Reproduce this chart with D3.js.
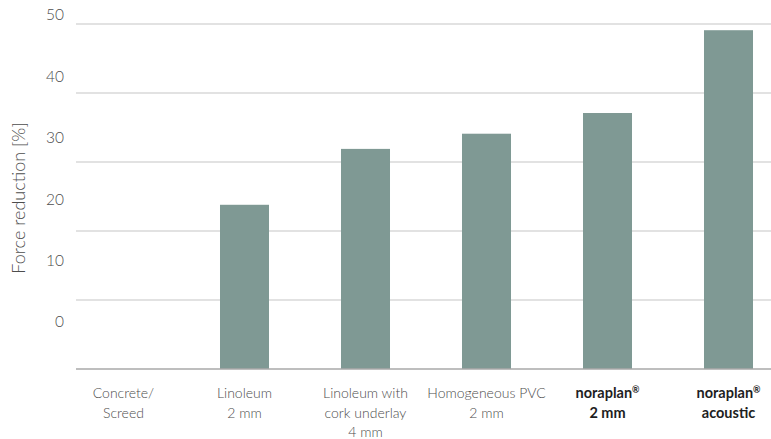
<!DOCTYPE html>
<html>
<head>
<meta charset="utf-8">
<script src="https://cdn.jsdelivr.net/npm/d3@7"></script>
<style>
  body { margin: 0; background: #fff; }
  svg { display: block; font-family: Lato, "Open Sans", sans-serif; }
</style>
</head>
<body>
<svg id="chart" width="771" height="439"></svg>
<script>
// categories, each split into lines; bold marks the noraplan products
const categories = ['Concrete/Screed', 'Linoleum 2 mm', 'Linoleum with cork underlay 4 mm',
  'Homogeneous PVC 2 mm', 'noraplan 2 mm', 'noraplan acoustic'];
const labelLines = [
  ['Concrete/', 'Screed'],
  ['Linoleum', '2 mm'],
  ['Linoleum with', 'cork underlay', '4 mm'],
  ['Homogeneous PVC', '2 mm'],
  ['noraplan®', '2 mm'],
  ['noraplan®', 'acoustic']
];
const boldLabel = [false, false, false, false, true, true];
const values = [0, 23.8, 31.9, 34.1, 37.1, 49.1];
const gridTicks = [0, 10, 20, 30, 40, 50];
const tickLabels = [50, 40, 30, 20, 10, 0];

const svg = d3.select('#chart');
const width = 771;
const margin = { top: 24, bottom: 369, left: 76 };

const x = d3.scaleBand()
  .domain(categories)
  .range([63, 789])
  .paddingInner(0.595)
  .paddingOuter(0.2975);

const y = d3.scaleLinear()
  .domain([0, 50])
  .range([margin.bottom, margin.top]);

// the printed tick labels sit on their own spacing, not on the gridlines
const yLabel = d3.scaleLinear()
  .domain([0, 50])
  .range([322, 15]);

// gridlines
svg.append('g')
  .selectAll('line')
  .data(gridTicks.slice(1))
  .join('line')
  .attr('x1', margin.left)
  .attr('x2', width)
  .attr('y1', d => y(d))
  .attr('y2', d => y(d))
  .attr('stroke', '#c6c6c6')
  .attr('stroke-width', 1.2);

// bars
svg.append('g')
  .selectAll('rect')
  .data(values)
  .join('rect')
  .attr('x', (d, i) => x(categories[i]))
  .attr('y', d => y(d))
  .attr('width', x.bandwidth())
  .attr('height', d => y(0) - y(d))
  .attr('fill', '#7f9994');

// baseline
svg.append('line')
  .attr('x1', margin.left)
  .attr('x2', width)
  .attr('y1', y(0))
  .attr('y2', y(0))
  .attr('stroke', '#a8a8a8')
  .attr('stroke-width', 1.3);

// y tick labels
svg.append('g')
  .selectAll('text')
  .data(tickLabels)
  .join('text')
  .attr('x', 64)
  .attr('y', d => yLabel(d))
  .attr('dy', '0.35em')
  .attr('text-anchor', 'end')
  .style('font-size', '15.5px')
  .style('font-weight', 300)
  .attr('fill', '#4d4d4d')
  .text(d => d);

// y title
svg.append('text')
  .attr('transform', 'translate(25,198) rotate(-90)')
  .attr('text-anchor', 'middle')
  .style('font-size', '18px')
  .style('font-weight', 300)
  .attr('fill', '#4d4d4d')
  .text('Force reduction [%]');

// x labels
const xl = svg.append('g')
  .selectAll('text')
  .data(categories)
  .join('text')
  .attr('x', d => x(d) + x.bandwidth() / 2)
  .attr('text-anchor', 'middle')
  .style('font-size', (d, i) => boldLabel[i] ? '14.5px' : '14px')
  .style('font-weight', (d, i) => boldLabel[i] ? 700 : 300)
  .attr('fill', (d, i) => boldLabel[i] ? '#1e1e1e' : '#4d4d4d');

xl.each(function (d, i) {
  const t = d3.select(this);
  labelLines[i].forEach((line, j) => {
    const ts = t.append('tspan')
      .attr('x', x(d) + x.bandwidth() / 2)
      .attr('y', 398 + j * 19.5);
    if (line.endsWith('®')) {
      ts.text(line.slice(0, -1));
      ts.append('tspan').attr('dy', -5).style('font-size', '9px').text('®');
    } else {
      ts.text(line);
    }
  });
});
</script>
</body>
</html>
